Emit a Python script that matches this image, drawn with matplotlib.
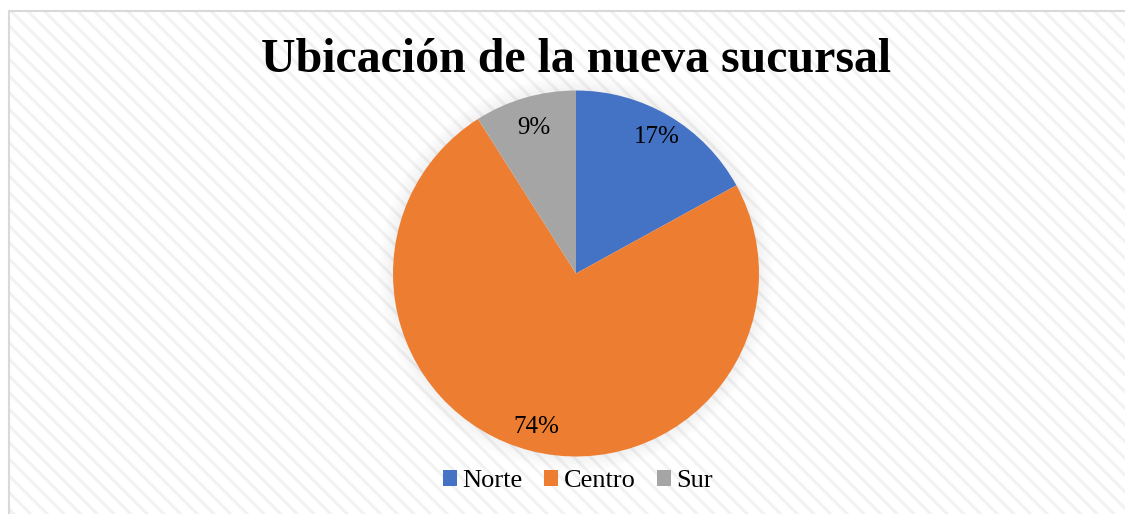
import matplotlib
matplotlib.use("Agg")
import matplotlib.pyplot as plt
from matplotlib.patches import Rectangle, Circle, Patch

# data
categories = ["Norte", "Centro", "Sur"]
values = [17, 74, 9]
colors = ["#4472C4", "#ED7D31", "#A5A5A5"]
title = "Ubicación de la nueva sucursal"

plt.rcParams["font.family"] = ["Liberation Serif", "DejaVu Serif"]
plt.rcParams["hatch.linewidth"] = 2.2
plt.rcParams["hatch.color"] = "#f2f2f2"

W, H = 1125, 514
fig = plt.figure(figsize=(W / 100, H / 100), dpi=100)
fig.patch.set_facecolor("white")

# striped background with a light frame
bg = Rectangle((9 / W, -0.05), 1.1, (H - 11) / H + 0.05, transform=fig.transFigure,
               facecolor="white", edgecolor="#f2f2f2", hatch="\\\\", linewidth=0, zorder=-3)
fig.patches.append(bg)
frame = Rectangle((9 / W, -0.05), 1.1, (H - 11) / H + 0.05, transform=fig.transFigure,
                  facecolor="none", edgecolor="#d9d9d9", linewidth=1.5, zorder=-2)
fig.patches.append(frame)

cx, cy, r = 576, 273.5, 183
ax = fig.add_axes([(cx - r) / W, (H - cy - r) / H, 2 * r / W, 2 * r / H])

# soft shadow around the pie
for k in range(14):
    ax.add_patch(Circle((0, 0), 1 + 0.006 * k, facecolor="none", edgecolor="#000000",
                        linewidth=1.2, alpha=0.035 * (1 - k / 14), clip_on=False, zorder=1))

wedges, texts, autotexts = ax.pie(values, colors=colors, startangle=90, counterclock=False,
                                  radius=1, autopct="%d%%", pctdistance=0.865,
                                  wedgeprops=dict(linewidth=0),
                                  textprops=dict(fontsize=18, color="black"))
for w in wedges:
    w.set_zorder(2)
for t in autotexts:
    t.set_zorder(3)
# the small grey slice label sits a little lower in the original
x9, y9 = autotexts[2].get_position()
autotexts[2].set_position((x9 * 0.96, y9 * 0.96))
ax.set_xlim(-1, 1)
ax.set_ylim(-1, 1)
ax.set_aspect("equal")
ax.axis("off")

fig.text(576 / W, 1 - 60 / H, title, ha="center", va="center",
         fontsize=34.5, fontweight="bold")

handles = [Patch(facecolor=c, edgecolor="none") for c in colors]
fig.legend(handles, categories, loc="center", bbox_to_anchor=(578 / W, 1 - 481 / H),
           ncol=3, frameon=False, fontsize=19, handlelength=0.55, handleheight=0.55,
           handletextpad=0.2, columnspacing=0.8)

fig.savefig("out.png", dpi=100)
